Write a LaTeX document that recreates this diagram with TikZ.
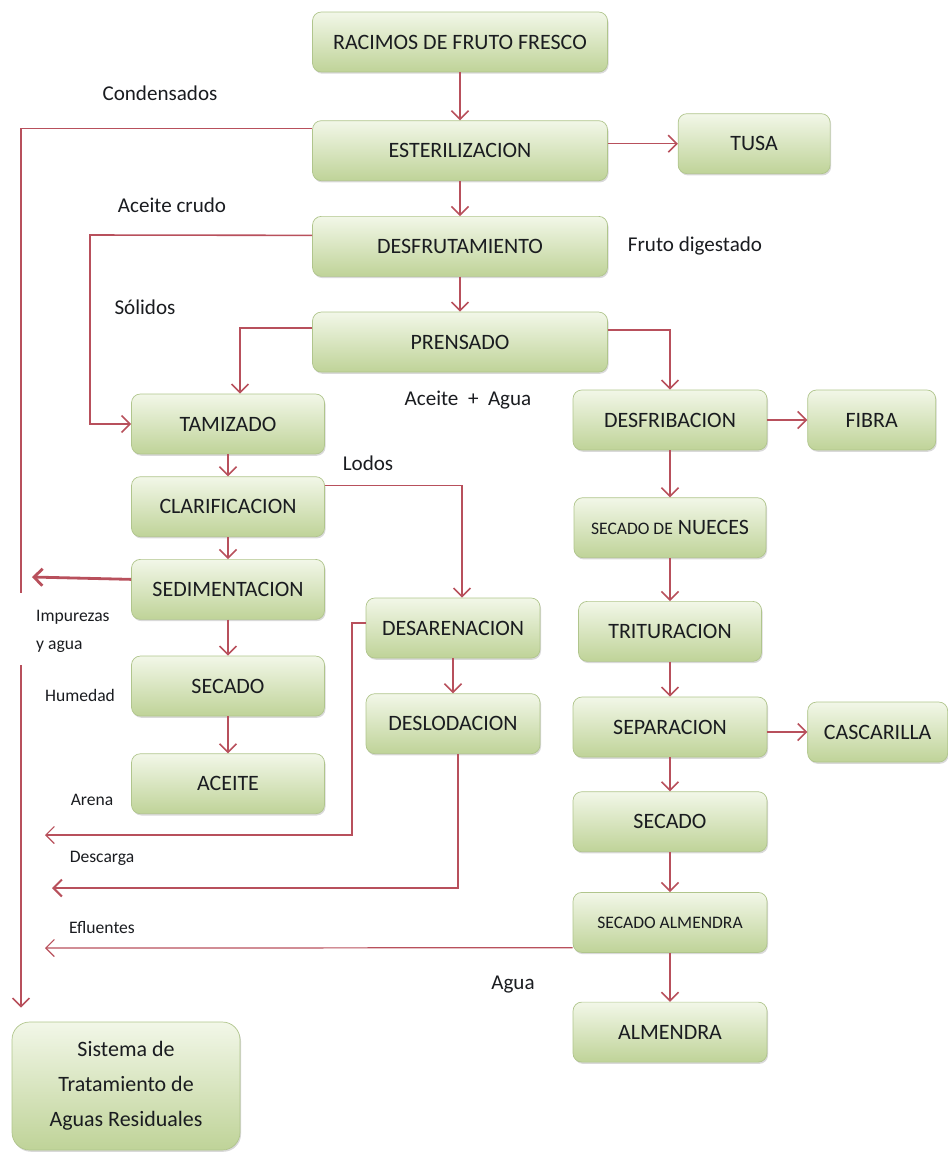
\documentclass[tikz,border=0pt]{standalone}
\usepackage{fontspec}
\setmainfont{Carlito}
\usetikzlibrary{arrows.meta,positioning,shadows}
\definecolor{boxclaro}{HTML}{F2F7E8}
\definecolor{boxoscuro}{HTML}{BFD398}
\definecolor{boxborde}{HTML}{B0C58C}
\definecolor{rojo}{HTML}{B8505C}
\definecolor{texto}{HTML}{1A1C20}

\begin{document}
\begin{tikzpicture}[x=0.02cm,y=-0.02cm,font=\fontsize{12.5}{15}\selectfont,text=texto,
   paso/.style={draw=boxborde,rounded corners=5pt,top color=boxclaro,bottom color=boxoscuro,
             minimum height=1.2cm,align=center,inner sep=2pt,
             drop shadow={shadow xshift=0.6pt,shadow yshift=-1pt,opacity=0.3}},
   flecha/.style={draw=rojo,line width=0.9pt,-{Straight Barb[length=1.7mm,width=3.4mm]}},
   linea/.style={draw=rojo,line width=0.9pt},
   et/.style={font=\fontsize{12}{14}\selectfont},
   etc/.style={font=\fontsize{10}{12}\selectfont}]
  \useasboundingbox (0,0) rectangle (947,1152);

  \node[paso,minimum width=5.9cm] (rac) at (460,42) {RACIMOS DE FRUTO FRESCO};
  \node[paso,minimum width=5.9cm,below=0.96cm of rac] (est) {ESTERILIZACION};
  \node[paso,minimum width=3.04cm,right=1.4cm of est,yshift=1.4mm] (tusa) {TUSA};
  \node[paso,minimum width=5.9cm,below=0.7cm of est] (desf) {DESFRUTAMIENTO};
  \node[paso,minimum width=5.9cm,below=0.7cm of desf] (pren) {PRENSADO};

  \node[paso,minimum width=3.86cm] (tam) at (228,424) {TAMIZADO};
  \node[paso,minimum width=3.86cm,below=0.44cm of tam] (clar) {CLARIFICACION};
  \node[paso,minimum width=3.86cm,below=0.44cm of clar] (sedi) {SEDIMENTACION};
  \node[paso,minimum width=3.86cm,below=0.72cm of sedi] (seca) {SECADO};
  \node[paso,minimum width=3.86cm,below=0.74cm of seca] (acei) {ACEITE};

  \node[paso,minimum width=3.48cm] (dare) at (453,628) {DESARENACION};
  \node[paso,minimum width=3.48cm,below=0.7cm of dare] (dslo) {DESLODACION};

  \node[paso,minimum width=3.88cm] (dfib) at (670,420) {DESFRIBACION};
  \node[paso,minimum width=2.56cm,right=0.8cm of dfib] (fibra) {FIBRA};
  \node[paso,minimum width=3.84cm,below=0.94cm of dfib] (snue) {{\fontsize{10}{12}\selectfont SECADO DE} NUECES};
  \node[paso,minimum width=3.66cm,below=0.86cm of snue] (trit) {TRITURACION};
  \node[paso,minimum width=3.88cm,below=0.7cm of trit] (sepa) {SEPARACION};
  \node[paso,minimum width=2.8cm,right=0.8cm of sepa,yshift=-1mm] (casc) {CASCARILLA};
  \node[paso,minimum width=3.88cm,below=0.68cm of sepa] (secb) {SECADO};
  \node[paso,minimum width=3.88cm,below=0.8cm of secb,font=\fontsize{10}{12}\selectfont] (salm) {SECADO ALMENDRA};
  \node[paso,minimum width=3.88cm,below=0.98cm of salm] (almd) {ALMENDRA};

  \node[paso,minimum width=4.56cm,minimum height=2.56cm,rounded corners=10pt,
        font=\fontsize{12.5}{20}\selectfont] (sist) at (126,1086)
       {Sistema de\\Tratamiento de\\Aguas Residuales};

  \node[et] (lcond) at (160,93) {Condensados};
  \node[et] (lcrudo) at (172,205) {Aceite crudo};
  \node[et] (lfruto) at (695,246) {Fruto digestado};
  \node[et] (lsol) at (145,307) {Sólidos};
  \node[et] (lagua) at (468,400) {Aceite \ + \ Agua};
  \node[et] (llodos) at (368,463) {Lodos};
  \node[etc,anchor=west] (limp) at (30,617) {Impurezas};
  \node[etc,anchor=west] (lyag) at (30,647) {y agua};
  \node[etc] (lhum) at (80,695) {Humedad};
  \node[etc] (lare) at (92,800) {Arena};
  \node[etc] (ldes) at (102,858) {Descarga};
  \node[etc] (lefl) at (102,928) {Efluentes};
  \node[et] (lagua2) at (513,985) {Agua};

  \coordinate (c1) at (21,593);
  \coordinate (c2) at (21,665);
  \coordinate (imp) at (32,577);
  \coordinate (sol) at (90,235);
  \coordinate (ar) at (352,835);
  \coordinate (ar2) at (45,835);
  \coordinate (de) at (52,888);
  \coordinate (ef) at (45,948);

  \draw[flecha] (rac) -- (est);
  \draw[flecha] (est) -- (desf);
  \draw[flecha] (desf) -- (pren);
  \draw[flecha] (est.east |- tusa) -- (tusa);
  \draw[linea] ([yshift=4.4mm]est.west) -| (c1);
  \draw[flecha,shorten >=2.8mm] (c2) -- (c2 |- sist.north);
  \draw[flecha,line width=1.6pt] ([yshift=2mm]sedi.west) -- (imp);
  \draw[flecha] ([yshift=2.2mm]desf.west) -- (sol) |- (tam);
  \draw[flecha] ([yshift=2.8mm]pren.west) -| ([xshift=2.4mm]tam.north);
  \draw[flecha] ([yshift=2.4mm]pren.east) -| (dfib);
  \draw[flecha] (tam) -- (clar);
  \draw[flecha] (clar) -- (sedi);
  \draw[flecha] (sedi) -- (seca);
  \draw[flecha] (seca) -- (acei);
  \draw[flecha] ([yshift=4.2mm]clar.east) -| ([xshift=1.8mm]dare.north);
  \draw[flecha] (dare) -- (dslo);
  \draw[flecha,line width=0.7pt] ([yshift=1mm]dare.west) -| (ar) -- (ar2);
  \draw[flecha,line width=1.2pt] ([xshift=1mm]dslo.south) |- (de);
  \draw[flecha,line width=0.7pt] ([yshift=1mm]salm.south west) -- (ef);
  \draw[flecha] (dfib) -- (fibra);
  \draw[flecha] (dfib) -- (snue);
  \draw[flecha] (snue) -- (trit);
  \draw[flecha] (trit) -- (sepa);
  \draw[flecha] (sepa.east |- casc) -- (casc);
  \draw[flecha] (sepa) -- (secb);
  \draw[flecha] (secb) -- (salm);
  \draw[flecha] (salm) -- (almd);
\end{tikzpicture}
\end{document}
